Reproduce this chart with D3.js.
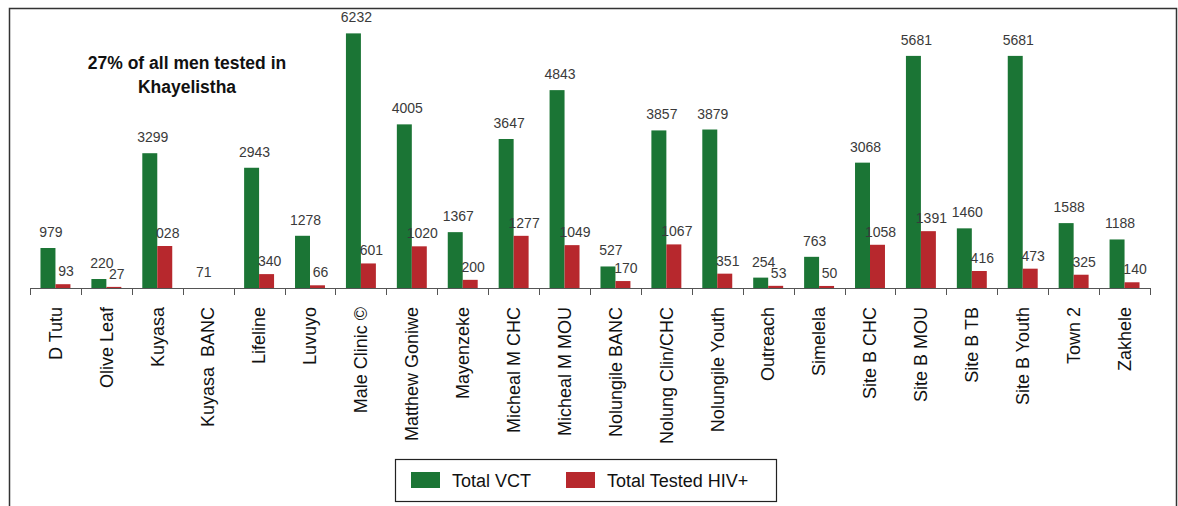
<!DOCTYPE html>
<html>
<head>
<meta charset="utf-8">
<script src="https://d3js.org/d3.v7.min.js"></script>
<style>
html, body { margin: 0; padding: 0; background: #fff; }
body { font-family: 'Liberation Sans', Arial, sans-serif; }
.val { font-size: 14px; fill: #3a3a3a; }
.cat { font-size: 18px; fill: #111; }
.axis line, .axis path { stroke: #555; }
</style>
</head>
<body>
<script>
// sites
var sites = ["D Tutu", "Olive Leaf", "Kuyasa", "Kuyasa  BANC", "Lifeline", "Luvuyo",
    "Male Clinic \u00a9", "Matthew Goniwe", "Mayenzeke", "Micheal M CHC", "Micheal M MOU",
    "Nolungile BANC", "Nolung Clin/CHC", "Nolungile Youth", "Outreach", "Simelela",
    "Site B CHC", "Site B MOU", "Site B TB", "Site B Youth", "Town 2", "Zakhele"];

// total VCT per site
var totalVCT = [979, 220, 3299, 0, 2943, 1278, 6232, 4005, 1367, 3647, 4843,
    527, 3857, 3879, 254, 763, 3068, 5681, 1460, 5681, 1588, 1188];

// total tested HIV+ per site
var totalHIV = [93, 27, 1028, 0, 340, 66, 601, 1020, 200, 1277, 1049,
    170, 1067, 351, 53, 50, 1058, 1391, 416, 473, 325, 140];

// data labels as they appear on the chart
var vctText = ["979", "220", "3299", "71", "2943", "1278", "6232", "4005", "1367", "3647", "4843",
    "527", "3857", "3879", "254", "763", "3068", "5681", "1460", "5681", "1588", "1188"];
var hivText = ["93", "27", "028", "", "340", "66", "601", "1020", "200", "1277", "1049",
    "170", "1067", "351", "53", "50", "1058", "1391", "416", "473", "325", "140"];

var seriesNames = ["Total VCT", "Total Tested HIV+"];
var colours = ["#1b7535", "#b7282d"];
var labelGap = [11, 8];

var W = 1178, H = 506;
var svg = d3.select("body").append("svg")
    .attr("width", W)
    .attr("height", H);

svg.append("rect").attr("width", W).attr("height", H).attr("fill", "#fff");

// outer frame (open at the bottom)
svg.append("path")
    .attr("d", "M9.5," + H + "V8.5H1176.5V" + H)
    .attr("fill", "none")
    .attr("stroke", "#333")
    .attr("stroke-width", 1.5);

var x = d3.scaleBand()
    .domain(sites)
    .range([30, 1150])
    .padding(0);

var x1 = d3.scaleBand()
    .domain(seriesNames)
    .range([0, x.bandwidth()])
    .paddingInner(0)
    .paddingOuter(0.7);

var y = d3.scaleLinear()
    .domain([0, 7000])
    .range([288, 2]);

var rows = sites.map(function(s, i) {
    return { site: s, values: [totalVCT[i], totalHIV[i]], labels: [vctText[i], hivText[i]] };
});

var groups = svg.selectAll(".site")
    .data(rows)
    .enter().append("g")
    .attr("class", "site")
    .attr("transform", function(d) { return "translate(" + x(d.site) + ",0)"; });

groups.selectAll("rect")
    .data(function(d) { return d.values.map(function(v, k) { return { k: k, v: v }; }); })
    .enter().append("rect")
    .attr("x", function(d) { return x1(seriesNames[d.k]); })
    .attr("width", x1.bandwidth())
    .attr("y", function(d) { return y(d.v); })
    .attr("height", function(d) { return y(0) - y(d.v); })
    .attr("fill", function(d) { return colours[d.k]; });

groups.selectAll("text.val")
    .data(function(d) { return d.values.map(function(v, k) { return { k: k, v: v, t: d.labels[k] }; }); })
    .enter().append("text")
    .attr("class", "val")
    .attr("text-anchor", "middle")
    .attr("x", function(d) { return x1(seriesNames[d.k]) + x1.bandwidth() / 2 + 3; })
    .attr("y", function(d) { return y(d.v) - labelGap[d.k]; })
    .text(function(d) { return d.t; });

// x axis with ticks at category boundaries
var axis = svg.append("g").attr("class", "axis");
axis.append("line")
    .attr("x1", 30).attr("x2", 1150)
    .attr("y1", 288.5).attr("y2", 288.5)
    .attr("stroke-width", 1.2);
var bounds = sites.map(function(s) { return x(s); }).concat([x.range()[1]]);
axis.selectAll(".tk")
    .data(bounds)
    .enter().append("line")
    .attr("x1", function(d) { return Math.round(d) + 0.5; })
    .attr("x2", function(d) { return Math.round(d) + 0.5; })
    .attr("y1", 288).attr("y2", 295);

svg.selectAll(".cat")
    .data(sites)
    .enter().append("text")
    .attr("class", "cat")
    .attr("text-anchor", "end")
    .attr("transform", function(d) {
        return "translate(" + (x(d) + x.bandwidth() / 2) + ",307) rotate(-90)";
    })
    .attr("dy", "0.35em")
    .text(function(d) { return d; })
    .style("white-space", "pre");

// title note
var note = svg.append("text")
    .attr("text-anchor", "middle")
    .attr("font-size", 17.5)
    .attr("font-weight", "bold")
    .attr("fill", "#111");
note.append("tspan").attr("x", 187).attr("y", 69).text("27% of all men tested in");
note.append("tspan").attr("x", 187).attr("y", 93).text("Khayelistha");

// legend
var lg = svg.append("g").attr("transform", "translate(395,459)");
lg.append("rect")
    .attr("x", 0.5).attr("y", 0.5)
    .attr("width", 381).attr("height", 42)
    .attr("fill", "#fff")
    .attr("stroke", "#222")
    .attr("stroke-width", 1.2);
var lx = [16, 171];
seriesNames.forEach(function(n, k) {
    lg.append("rect")
        .attr("x", lx[k]).attr("y", 13)
        .attr("width", 29).attr("height", 16)
        .attr("fill", colours[k]);
    lg.append("text")
        .attr("x", lx[k] + 41).attr("y", 28)
        .attr("font-size", 18)
        .attr("fill", "#111")
        .text(n);
});
</script>
</body>
</html>
